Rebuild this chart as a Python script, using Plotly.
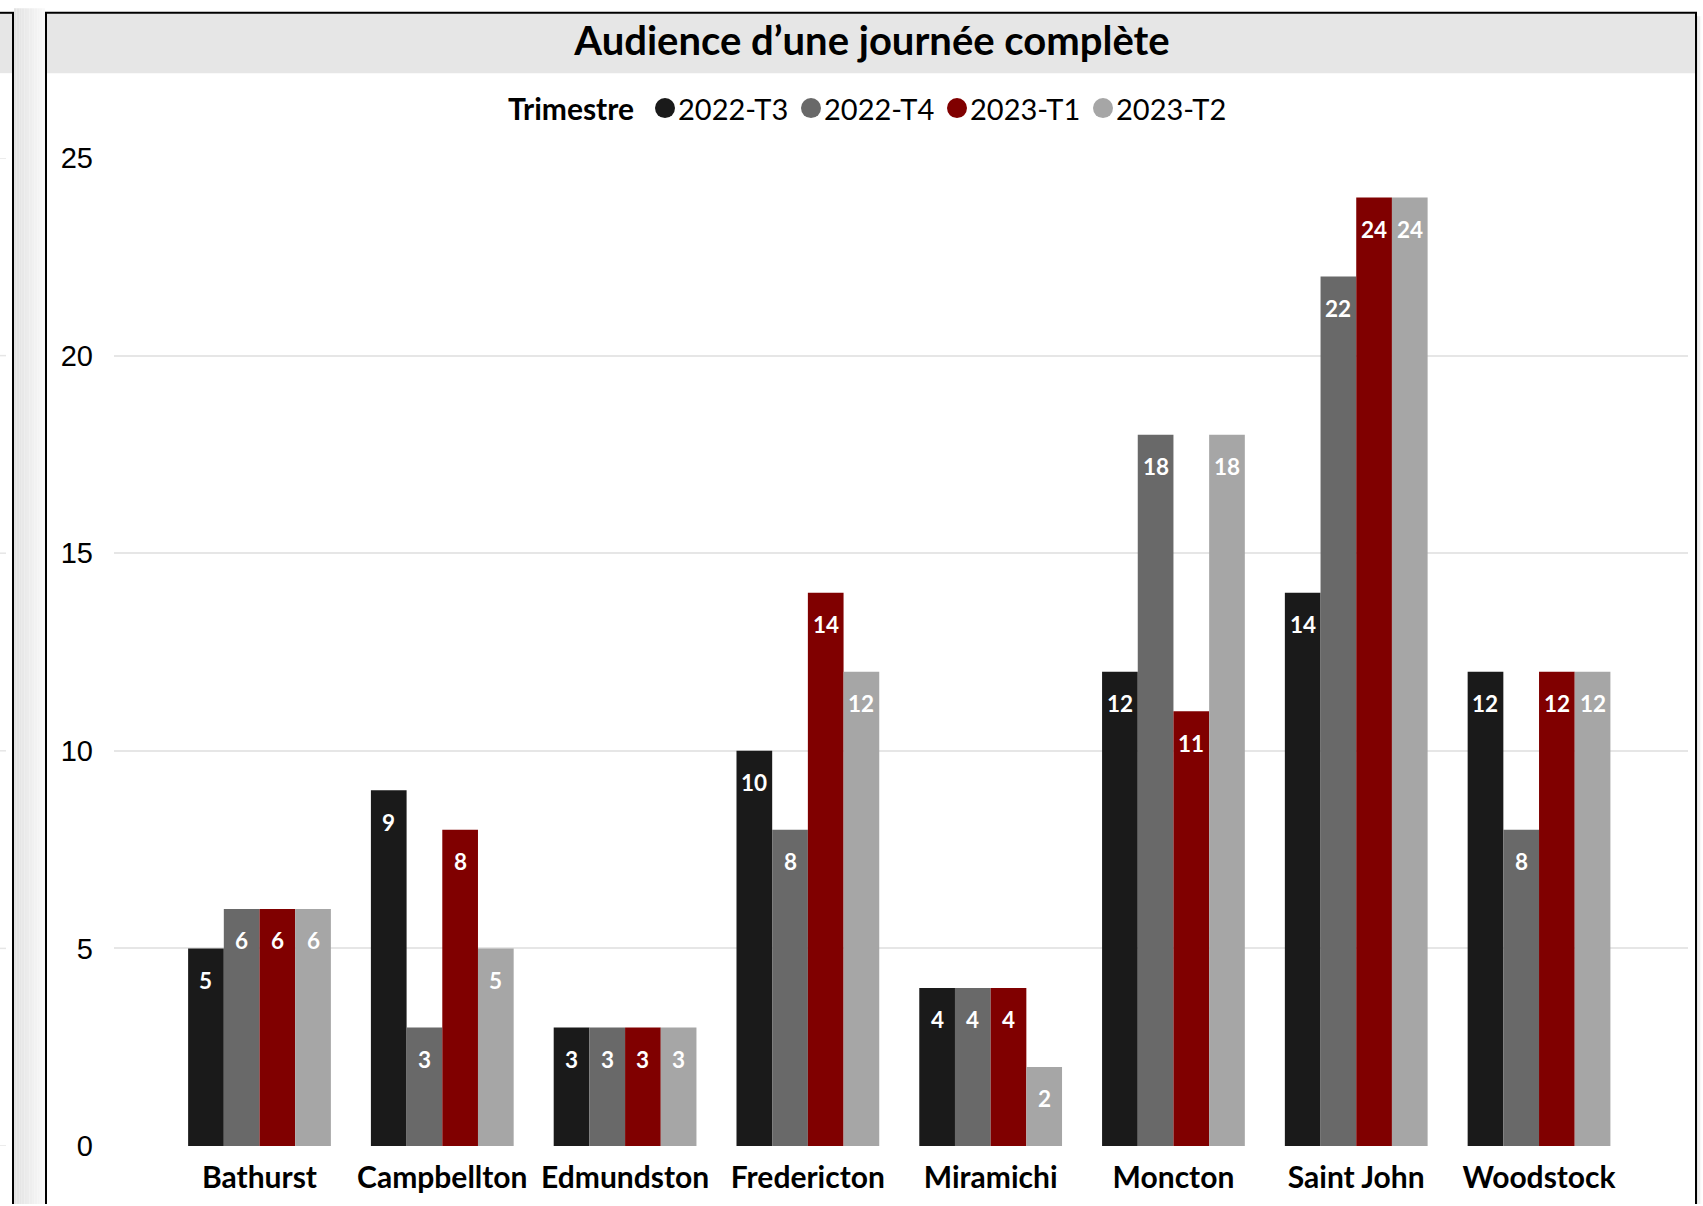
import plotly.graph_objects as go

# ---------------- data ----------------
categories = ["Bathurst", "Campbellton", "Edmundston", "Fredericton",
              "Miramichi", "Moncton", "Saint John", "Woodstock"]
series_names = ["2022-T3", "2022-T4", "2023-T1", "2023-T2"]
v_2022_t3 = [5, 9, 3, 10, 4, 12, 14, 12]
v_2022_t4 = [6, 3, 3, 8, 4, 18, 22, 8]
v_2023_t1 = [6, 8, 3, 14, 4, 11, 24, 12]
v_2023_t2 = [6, 5, 3, 12, 2, 18, 24, 12]
y_ticks = [0, 5, 10, 15, 20, 25]
title_text = "Audience d’une journée complète"
legend_title = "Trimestre"

values = [v_2022_t3, v_2022_t4, v_2023_t1, v_2023_t2]
colors = ["#1a1a1a", "#696969", "#800000", "#a6a6a6"]

# ---------------- layout geometry ----------------
W, H = 1703, 1206
L, R, T, B = 114, 15, 158, 58
PW = W - L - R
PH = H - T - B
XR = [-0.796, 7.815]
BARGAP = 0.219


def px_x(px):
    return (px - L) / PW


def px_y(py):
    return (H - B - py) / PH


fig = go.Figure()

for name, vals, col in zip(series_names, values, colors):
    fig.add_trace(go.Bar(
        x=categories, y=vals, name=name, marker=dict(color=col, line=dict(width=0)),
        showlegend=False, hoverinfo="x+y+name"))

# value labels inside bars (near the top)
cat_px = PW / (XR[1] - XR[0])
bar_w = cat_px * (1 - BARGAP) / len(series_names)
annotations = []
for i, vals in enumerate(values):
    xs = (i - (len(series_names) - 1) / 2) * bar_w
    for c, v in zip(categories, vals):
        annotations.append(dict(
            x=c, y=v, xref="x", yref="y", text=str(v), showarrow=False,
            xshift=xs, yshift=-32, yanchor="middle", xanchor="center",
            font=dict(family="Lato", size=22.5, color="white", weight="bold")))

shapes = []

# ---------------- legend (drawn: title + round markers + labels) ----------------
LEG_Y = 108
LEG_X0 = 665
LEG_PITCH = 146
annotations.append(dict(
    x=px_x(636), y=px_y(LEG_Y), xref="paper", yref="paper", text=legend_title,
    showarrow=False, xanchor="right", yanchor="middle",
    font=dict(family="Lato", size=30, color="black", weight="bold")))
for i, (name, col) in enumerate(zip(series_names, colors)):
    cx = LEG_X0 + LEG_PITCH * i
    shapes.append(dict(type="circle", xref="paper", yref="paper",
                       x0=px_x(cx - 10), x1=px_x(cx + 10),
                       y0=px_y(LEG_Y - 10), y1=px_y(LEG_Y + 10),
                       fillcolor=col, line=dict(width=0), layer="above"))
    annotations.append(dict(
        x=px_x(cx + 11), y=px_y(LEG_Y), xref="paper", yref="paper", text=name,
        showarrow=False, xanchor="left", yanchor="middle",
        font=dict(family="Lato", size=29, color="black")))


# ---------------- frame shapes ----------------
def rect(x0, y0, x1, y1, fill, layer="below"):
    shapes.append(dict(type="rect", xref="paper", yref="paper",
                       x0=px_x(x0), x1=px_x(x1), y0=px_y(y0), y1=px_y(y1),
                       fillcolor=fill, line=dict(width=0), layer=layer))


def line(x0, y0, x1, y1, color="black", width=2):
    shapes.append(dict(type="line", xref="paper", yref="paper",
                       x0=px_x(x0), x1=px_x(x1), y0=px_y(y0), y1=px_y(y1),
                       line=dict(color=color, width=width), layer="above"))


# gradient gap between panels
n = 12
for k in range(n):
    g = int(0xe2 + (0xf8 - 0xe2) * k / (n - 1))
    x0 = 14 + k * (45 - 14) / n
    x1 = 14 + (k + 1) * (45 - 14) / n
    rect(x0, 8, x1, H, f"rgb({g},{g},{g})")
# right shadow
for k in range(4):
    g = int(0xe4 + 0x0a * k)
    rect(1697 + k * 1.5, 16, 1697 + (k + 1) * 1.5, H, f"rgb({g},{g},{g})")

# left (partial) panel
rect(0, 13, 12.5, 73, "#e6e6e6")
line(0, 12.5, 14, 12.5)
line(13, 12, 13, H)
# main panel title band and border
rect(46, 13, 1696, 73, "#e6e6e6")
line(45, 12.5, 1697, 12.5)
line(46, 12, 46, H)
line(1696, 12, 1696, H)

# gridline stubs of the neighbouring panel
for t in y_ticks:
    shapes.append(dict(type="line", xref="paper", yref="y",
                       x0=px_x(0), x1=px_x(6), y0=t, y1=t,
                       line=dict(color="#e6e6e6", width=1.5), layer="below"))

fig.update_layout(
    width=W, height=H,
    margin=dict(l=L, r=R, t=T, b=B, pad=0),
    paper_bgcolor="white", plot_bgcolor="white",
    barmode="group", bargap=BARGAP, bargroupgap=0,
    font=dict(family="Lato", color="black"),
    title=dict(text=title_text, xref="container", yref="container",
               x=872 / W, y=1 - 41 / H, xanchor="center", yanchor="middle",
               font=dict(family="Lato", size=40, color="black", weight="bold")),
    showlegend=False,
    xaxis=dict(range=XR, showgrid=False, zeroline=False, showline=False,
               ticks="", ticklabelstandoff=11,
               tickfont=dict(family="Lato", size=30, color="black", weight="bold"),
               fixedrange=True),
    yaxis=dict(range=[0, 25], tickvals=y_ticks, showgrid=True, gridcolor="#e6e6e6",
               gridwidth=1.5, zeroline=False, showline=False, ticks="",
               ticklabelstandoff=20,
               tickfont=dict(family="Liberation Sans", size=29, color="black"),
               fixedrange=True),
    annotations=annotations,
    shapes=shapes,
)

fig.write_html("out.html", config={"displayModeBar": False},
               post_script="document.body.style.margin='0';document.body.style.overflow='hidden';")
